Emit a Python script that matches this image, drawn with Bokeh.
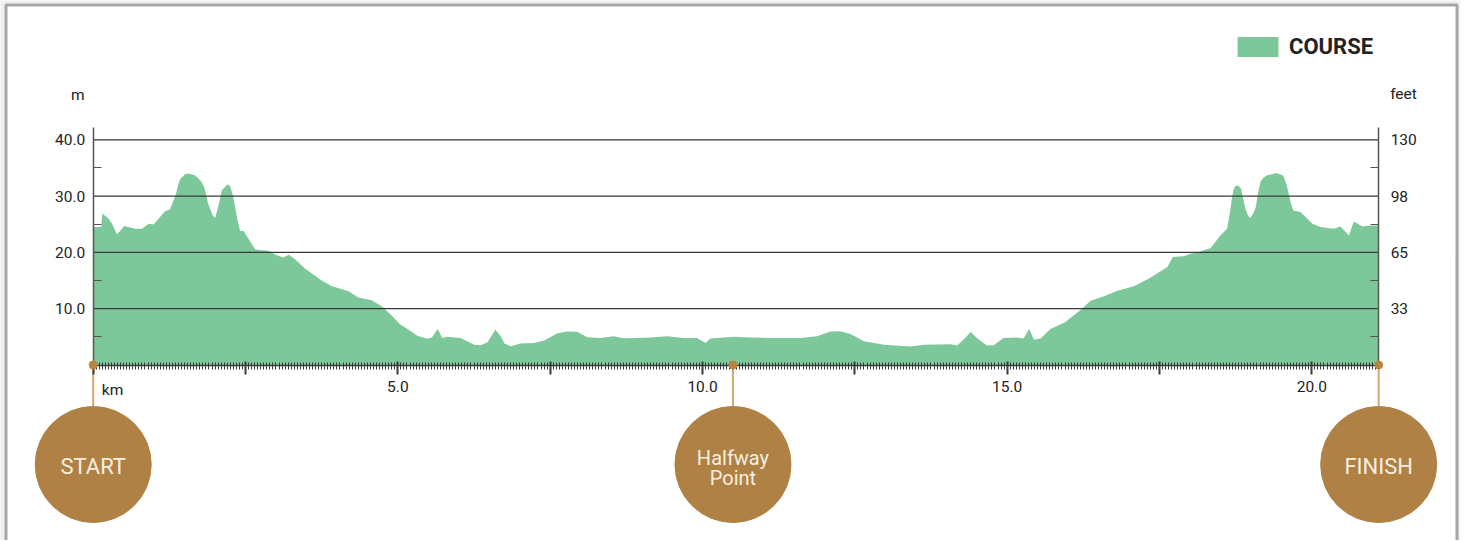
import numpy as np
from bokeh.plotting import figure
from bokeh.models import (Range1d, LinearAxis, FixedTicker, Label, Legend, LegendItem,
                          ColumnDataSource, PrintfTickFormatter)
from bokeh.core.properties import value
from bokeh.embed import file_html
from bokeh.resources import INLINE

# ---------------- data ----------------
distance_km = [0.00, 0.13, 0.15, 0.25, 0.31, 0.39, 0.51, 0.69, 0.80, 0.91, 0.99, 1.18, 1.26,
               1.36, 1.39, 1.43, 1.51, 1.56, 1.67, 1.73, 1.78, 1.82, 1.85, 1.88, 1.92, 1.96,
               2.00, 2.05, 2.08, 2.11, 2.17, 2.21, 2.25, 2.27, 2.30, 2.34, 2.37,
               2.41, 2.47, 2.55, 2.66, 2.88, 2.99, 3.12, 3.21, 3.29, 3.48, 3.75, 3.92, 4.19,
               4.35, 4.57, 4.74, 4.90, 5.04, 5.17, 5.32, 5.48, 5.56, 5.65, 5.73, 5.81, 6.03,
               6.25, 6.36, 6.47, 6.60, 6.69, 6.75, 6.85, 7.01, 7.23, 7.40, 7.62, 7.78, 7.94,
               8.11, 8.33, 8.54, 8.71, 9.15, 9.42, 9.69, 9.91, 10.05, 10.13, 10.35, 10.51,
               10.79, 11.06, 11.33, 11.61, 11.88, 12.10, 12.26, 12.43, 12.65, 12.98, 13.41,
               13.63, 14.07, 14.18, 14.32, 14.40, 14.51, 14.67, 14.78, 14.94, 15.16, 15.27,
               15.36, 15.44, 15.55, 15.71, 15.95, 16.21, 16.37, 16.59, 16.81, 17.08, 17.35,
               17.63, 17.72, 17.90, 18.01, 18.12, 18.34, 18.50, 18.61, 18.67, 18.69, 18.72,
               18.75, 18.79, 18.84, 18.87, 18.91, 18.95, 18.99, 19.04, 19.08, 19.12, 19.16,
               19.21, 19.27, 19.35, 19.42, 19.52, 19.54, 19.59, 19.62, 19.66, 19.70, 19.81,
               20.01, 20.14, 20.36, 20.47, 20.61, 20.69, 20.83, 20.97, 21.0975]
elevation_m = [24.5, 24.5, 26.9, 26.0, 25.1, 23.2, 24.7, 24.2, 24.2, 25.1, 24.95, 27.3, 27.6,
               30.4, 31.9, 33.1, 33.9, 34.0, 33.7, 33.1, 32.5, 31.6, 30.4, 28.9, 27.7, 26.6,
               26.1, 28.0, 29.5, 31.0, 31.7, 32.1, 31.7, 31.0, 29.8, 27.4, 25.7,
               23.8, 23.8, 22.4, 20.5, 20.3, 19.6, 19.1, 19.6, 19.0, 17.1, 15.0, 14.0, 13.1,
               12.0, 11.5, 10.4, 8.8, 7.2, 6.3, 5.2, 4.65, 4.9, 6.4, 4.8, 5.0, 4.8,
               3.6, 3.5, 4.05, 6.25, 5.1, 3.8, 3.35, 3.8, 3.9, 4.35, 5.65, 5.95, 5.9,
               4.95, 4.8, 5.1, 4.75, 4.9, 5.1, 4.8, 4.8, 3.9, 4.7, 4.9, 5.0,
               4.9, 4.8, 4.8, 4.8, 5.1, 5.95, 6.0, 5.5, 4.2, 3.6, 3.3,
               3.6, 3.7, 3.45, 4.9, 5.85, 4.7, 3.45, 3.5, 4.8, 4.9, 4.7,
               6.4, 4.5, 4.7, 6.4, 7.6, 9.8, 11.4, 12.2, 13.2, 14.0, 15.5,
               17.4, 19.2, 19.3, 19.75, 20.0, 20.8, 23.0, 24.2, 28.0, 29.8, 31.3,
               31.8, 31.9, 31.3, 29.8, 27.7, 26.6, 26.1, 26.9, 28.0, 30.7, 32.6,
               33.3, 33.7, 33.9, 34.1, 33.7, 33.4, 31.9, 30.4, 28.6, 27.4, 27.2,
               25.1, 24.5, 24.2, 24.6, 23.0, 25.5, 24.6, 24.8, 24.8]
y_ticks_m = [10, 20, 30, 40]
y_minor_m = [5, 15, 25, 35]
y_ticks_feet = ["33", "65", "98", "130"]
x_major_km = [0.0, 2.5, 5.0, 7.5, 10.0, 12.5, 15.0, 17.5, 20.0]
x_labelled_km = [5.0, 10.0, 15.0, 20.0]
marker_km = [0.0, 10.5, 21.0975]
marker_text = ["START", "Halfway\nPoint", "FINISH"]
series_name = "COURSE"

# ---------------- layout (canvas pixels) ----------------
W, H = 1460, 540
X0_PX, PX_PER_KM = 92.7, 60.93
Y0_PX, PX_PER_M = 364.5, 5.63


def km_at(px):
    return (px - X0_PX) / PX_PER_KM


def m_at(py):
    return (Y0_PX - py) / PX_PER_M


GREEN = "#7cc89a"
BROWN = "#b08144"
TAN = "#d6a66a"
DARK = "#3a3a3a"
AXIS = "#555555"
TXT = "#222222"
FONT = "Roboto"

x0r, x1r = km_at(0), km_at(W)
y0r, y1r = m_at(H), m_at(0)

p = figure(width=W, height=H, output_backend="svg", toolbar_location=None,
           x_range=Range1d(x0r, x1r), y_range=Range1d(y0r, y1r),
           min_border=0, min_border_left=0, min_border_right=0,
           min_border_top=0, min_border_bottom=0,
           outline_line_color=None, background_fill_color="#efefef",
           border_fill_color="#efefef")
p.xgrid.visible = False
p.ygrid.visible = False

finish = marker_km[-1]
y_top = m_at(126.7)

# white card with grey frame
p.quad(left=km_at(5.5), right=km_at(1456.5), top=m_at(4.5), bottom=m_at(H + 20),
       fill_color="white", line_color="#a6a6a6", line_width=3)

# elevation area
src = ColumnDataSource(dict(km=distance_km, elev=elevation_m))
area = p.varea(x="km", y1=0, y2="elev", source=src, fill_color=GREEN, fill_alpha=1.0)

# horizontal grid lines between the two axes
p.segment(x0=0, x1=finish, y0=y_ticks_m, y1=y_ticks_m, line_color=DARK, line_width=1.3)

# x axis
xa = p.xaxis[0]
xa.fixed_location = 0
xa.bounds = (0, finish)
xa.ticker = FixedTicker(ticks=x_major_km,
                        minor_ticks=[round(v, 2) for v in np.arange(0, finish, 0.05)])
xa.major_label_overrides = {t: (f"{t:.1f}" if t in x_labelled_km else "") for t in x_major_km}
xa.axis_line_color = DARK
xa.axis_line_width = 1.5
xa.major_tick_in = 4
xa.major_tick_out = 9
xa.major_tick_line_width = 2
xa.major_tick_line_color = DARK
xa.minor_tick_in = 3
xa.minor_tick_out = 4
xa.minor_tick_line_color = DARK
xa.minor_tick_line_width = 1
xa.major_label_standoff = 7
xa.major_label_text_font = FONT
xa.major_label_text_font_size = "15.5px"
xa.major_label_text_color = TXT

# left y axis (m)
ya = p.yaxis[0]
ya.fixed_location = 0
ya.bounds = (0, y_top)
ya.ticker = FixedTicker(ticks=y_ticks_m, minor_ticks=y_minor_m)
ya.formatter = PrintfTickFormatter(format="%.1f")
# right y axis (feet)
ra = LinearAxis(fixed_location=finish, bounds=(0, y_top),
                ticker=FixedTicker(ticks=y_ticks_m, minor_ticks=y_minor_m),
                major_label_overrides={t: f for t, f in zip(y_ticks_m, y_ticks_feet)})
p.add_layout(ra, "right")
for ax, standoff in ((ya, 8), (ra, 12)):
    ax.axis_line_color = AXIS
    ax.axis_line_width = 1.5
    ax.major_tick_in = 0
    ax.major_tick_out = 0
    ax.minor_tick_in = 8
    ax.minor_tick_out = 0
    ax.minor_tick_line_color = AXIS
    ax.minor_tick_line_width = 1.2
    ax.major_label_standoff = standoff
    ax.major_label_text_font = FONT
    ax.major_label_text_font_size = "15.5px"
    ax.major_label_text_color = TXT

# unit labels
for txt, px, py in [("m", 77.3, 94.0), ("feet", 1403.0, 93.0), ("km", 112.0, 389.0)]:
    p.add_layout(Label(x=km_at(px), y=m_at(py), text=txt, text_align="center",
                       text_baseline="middle", text_font=FONT, text_font_size="15.5px",
                       text_color=TXT))

# markers: connectors, circles, texts, dots
circle_y = m_at(464)
p.segment(x0=marker_km, x1=marker_km, y0=0, y1=circle_y, line_color=TAN, line_width=2)
p.scatter(x=marker_km, y=[circle_y] * len(marker_km), size=116, marker="circle",
          fill_color=BROWN, line_color=BROWN)
msrc = ColumnDataSource(dict(x=marker_km, text=marker_text,
                             y=[m_at(465.5), m_at(467.5), m_at(465.5)],
                             fs=["22px", "20px", "22px"]))
p.text(x="x", y="y", text="text", source=msrc, text_font_size="fs",
       text_align="center", text_baseline="middle", text_font=value(FONT),
       text_color="#f7eee0", text_line_height=0.82)
p.scatter(x=marker_km, y=[0] * len(marker_km), size=8, marker="circle",
          fill_color="#b9843f", line_color="#b9843f", level="overlay")

legend = Legend(items=[LegendItem(label=series_name, renderers=[area])],
                location=(1232, 481.5), orientation="horizontal",
                glyph_width=51, glyph_height=25, label_standoff=6,
                label_text_font=FONT, label_text_font_size="22px",
                label_text_font_style="bold",
                label_text_color=TXT, padding=0, margin=0, spacing=0,
                border_line_color=None, background_fill_alpha=0)
p.add_layout(legend)

open("out.html", "w").write(file_html(p, INLINE))
